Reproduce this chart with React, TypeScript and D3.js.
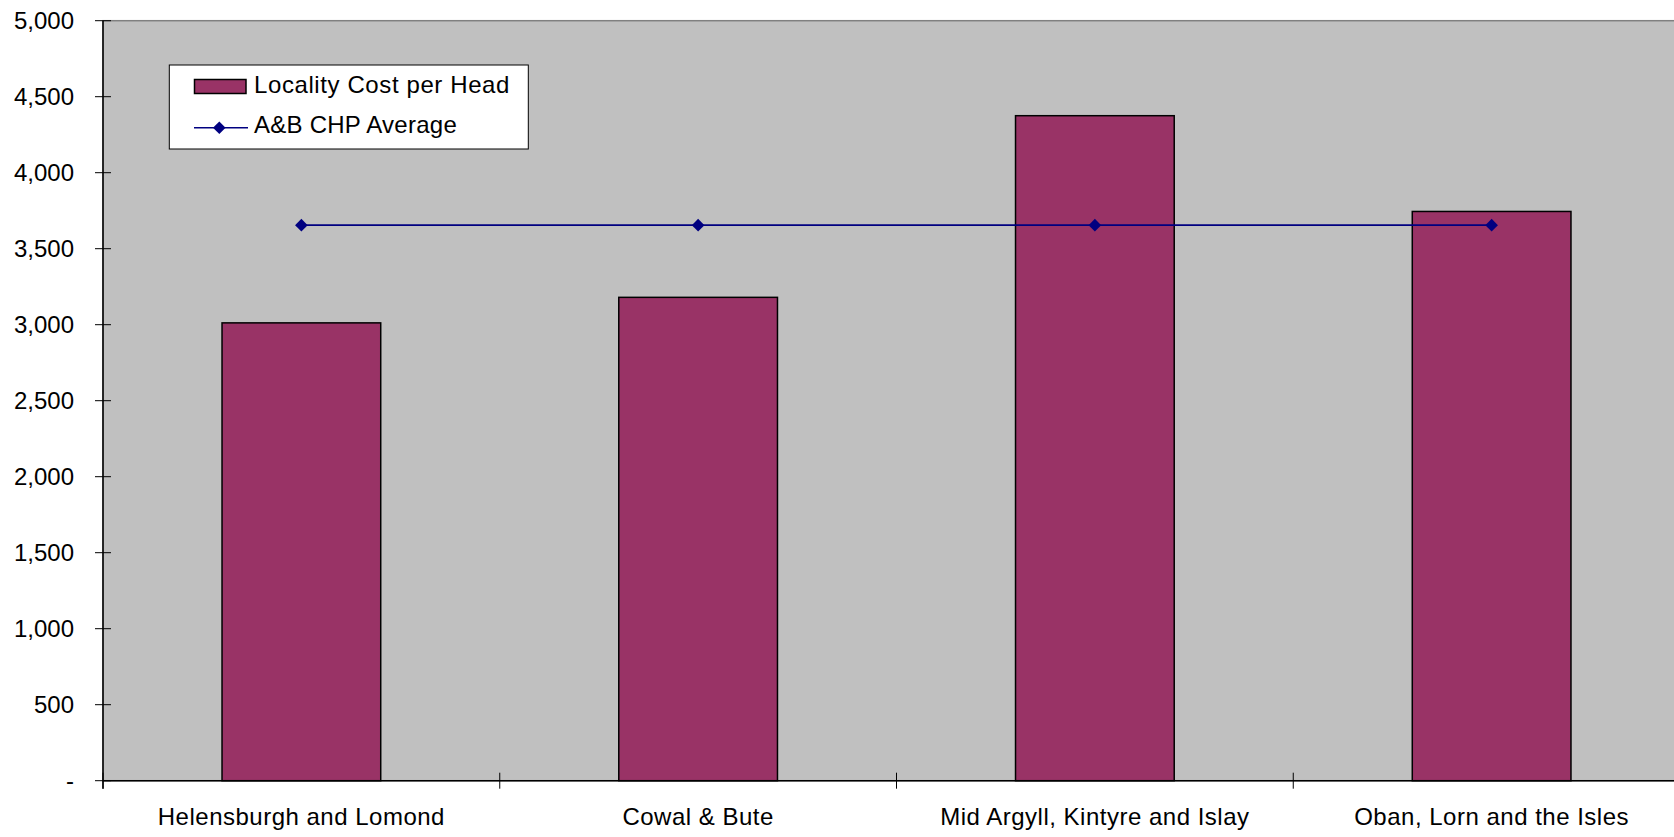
import React from "react";
import * as d3 from "d3";

// Locality cost per head vs. the A&B CHP average
const localities = [
  "Helensburgh and Lomond",
  "Cowal & Bute",
  "Mid Argyll, Kintyre and Islay",
  "Oban, Lorn and the Isles",
];
const costPerHead = [3012, 3180, 4375, 3745];
const chpAverage = [3655, 3655, 3655, 3655];
const yTicks = [0, 500, 1000, 1500, 2000, 2500, 3000, 3500, 4000, 4500, 5000];
const legendLabels = ["Locality Cost per Head", "A&B CHP Average"];

const W = 1674;
const H = 837;
const plot = { left: 103, top: 20.7, right: 1690, bottom: 780.7 };
const FONT = "'Liberation Sans', Arial, sans-serif";
const BAR_FILL = "#993366";
const LINE_COLOR = "#000080";

const fmt = d3.format(",");

function diamond(cx: number, cy: number, r: number) {
  return `M${cx},${cy - r}L${cx + r},${cy}L${cx},${cy + r}L${cx - r},${cy}Z`;
}

export default function App() {
  const x = d3
    .scaleBand<string>()
    .domain(localities)
    .range([plot.left, plot.right])
    .padding(0);
  const y = d3.scaleLinear().domain([0, 5000]).range([plot.bottom, plot.top]);
  const bw = x.bandwidth();
  const barW = bw * 0.4;

  const lineGen = d3
    .line<number>()
    .x((_, i) => (x(localities[i]) as number) + bw / 2)
    .y((d) => y(d));

  const boundaries = localities.map((c) => x(c) as number).concat([plot.right]);

  return (
    <svg
      width={W}
      height={H}
      style={{ position: "absolute", left: 0, top: 0, display: "block" }}
      fontFamily={FONT}
    >
      <rect x={0} y={0} width={W} height={H} fill="#ffffff" />
      {/* plot area */}
      <rect
        x={plot.left}
        y={plot.top}
        width={plot.right - plot.left}
        height={plot.bottom - plot.top}
        fill="#C0C0C0"
        stroke="#808080"
        strokeWidth={1.5}
      />

      {/* bars */}
      {localities.map((c, i) => (
        <rect
          key={c}
          x={(x(c) as number) + (bw - barW) / 2}
          y={y(costPerHead[i])}
          width={barW}
          height={y(0) - y(costPerHead[i])}
          fill={BAR_FILL}
          stroke="#000000"
          strokeWidth={1.5}
        />
      ))}

      {/* average line */}
      <path d={lineGen(chpAverage) || ""} fill="none" stroke={LINE_COLOR} strokeWidth={1.6} />
      {chpAverage.map((v, i) => (
        <path
          key={i}
          d={diamond((x(localities[i]) as number) + bw / 2, y(v), 6.3)}
          fill={LINE_COLOR}
        />
      ))}

      {/* y axis */}
      <line x1={plot.left} x2={plot.left} y1={plot.top} y2={plot.bottom + 8} stroke="#000" strokeWidth={1.5} />
      {yTicks.map((t) => (
        <g key={t}>
          <line x1={plot.left - 8} x2={plot.left + 8} y1={y(t)} y2={y(t)} stroke="#000" strokeWidth={1} />
          <text x={74} y={y(t) + 8.5} textAnchor="end" fontSize={24} fill="#000">
            {t === 0 ? "-" : fmt(t)}
          </text>
        </g>
      ))}

      {/* x axis */}
      <line x1={plot.left} x2={plot.right} y1={plot.bottom} y2={plot.bottom} stroke="#000" strokeWidth={1.5} />
      {boundaries.map((bx, i) => (
        <line key={i} x1={bx} x2={bx} y1={plot.bottom - 8} y2={plot.bottom + 8} stroke="#000" strokeWidth={1} />
      ))}
      {localities.map((c) => (
        <text
          key={c}
          x={(x(c) as number) + bw / 2}
          y={825}
          textAnchor="middle"
          fontSize={24}
          letterSpacing={0.5}
          fill="#000"
        >
          {c}
        </text>
      ))}

      {/* legend */}
      <g>
        <rect x={169.3} y={65} width={359} height={84} fill="#ffffff" stroke="#000" strokeWidth={1} />
        <rect x={194.5} y={79.5} width={51.5} height={14} fill={BAR_FILL} stroke="#000" strokeWidth={1.5} />
        <text x={254} y={92.5} fontSize={24} letterSpacing={0.6} fill="#000">
          {legendLabels[0]}
        </text>
        <line x1={194} x2={248} y1={127.7} y2={127.7} stroke={LINE_COLOR} strokeWidth={1.6} />
        <path d={diamond(219.3, 127.7, 6.3)} fill={LINE_COLOR} />
        <text x={254} y={132.5} fontSize={24} letterSpacing={0.25} fill="#000">
          {legendLabels[1]}
        </text>
      </g>
    </svg>
  );
}
